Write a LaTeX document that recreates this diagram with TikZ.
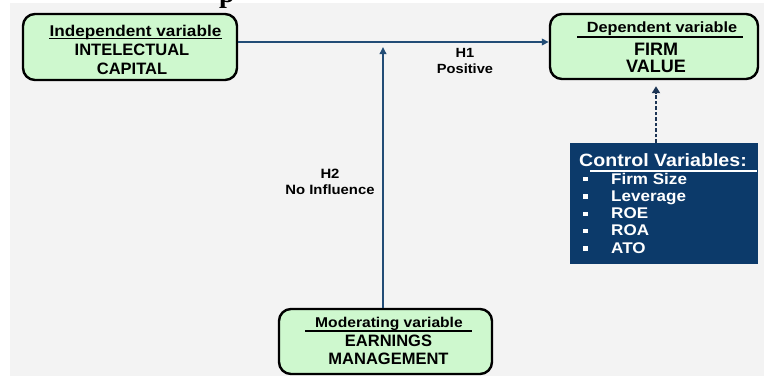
\documentclass[tikz,border=0pt]{standalone}
\usepackage{fontspec}
\setmainfont{Liberation Sans}
\newfontfamily\widesans{Liberation Sans}[FakeStretch=1.1]
\newfontfamily\serifbold{Liberation Serif}
\usetikzlibrary{arrows.meta}
\definecolor{bgc}{RGB}{243,243,243}
\definecolor{boxgreen}{RGB}{206,248,206}
\definecolor{arrowblue}{RGB}{34,76,118}
\definecolor{navy}{RGB}{12,58,106}
\definecolor{dashnavy}{RGB}{28,52,84}
\begin{document}
\begin{tikzpicture}[x=1pt,y=-1pt,
  varbox/.style={draw=black, line width=2.4pt, rounded corners=12pt, fill=boxgreen, inner sep=0pt},
  ctrlbox/.style={fill=navy, inner sep=0pt},
  txt/.style={inner sep=0pt, anchor=base, font=\bfseries\fontsize{#1}{#1}\selectfont},
  htxt/.style={inner sep=0pt, anchor=base, font=\widesans\bfseries\fontsize{#1}{#1}\selectfont},
  wtxt/.style={inner sep=0pt, anchor=base west, text=white, font=\widesans\bfseries\fontsize{#1}{#1}\selectfont},
  ruleline/.style={line width=1.2pt},
  conn/.style={draw=arrowblue, line width=2pt, -{Triangle[length=7pt,width=6.5pt]}},
  dconn/.style={draw=dashnavy, line width=2.6pt, dash pattern=on 3.5pt off 2pt, -{Triangle[length=7pt,width=8pt]}},
  bulletsq/.style={fill=white, minimum width=5pt, minimum height=4.5pt, inner sep=0pt},
]
\useasboundingbox (0,0) rectangle (764,376);
\fill[white] (0,0) rectangle (764,376);
\fill[bgc] (10,3) rectangle (764,376);

% cut-off title fragment
\node[inner sep=0pt, anchor=base west, font=\serifbold\bfseries\fontsize{28}{28}\selectfont] (ttl) at (219,2) {p};

% boxes
\node[varbox, minimum width=214pt, minimum height=66pt] (iv) at (130,47) {};
\node[varbox, minimum width=208pt, minimum height=65pt] (dv) at (654,46.5) {};
\node[varbox, minimum width=213pt, minimum height=65pt] (mv) at (385.5,341.5) {};
\node[ctrlbox, minimum width=188pt, minimum height=121pt] (cv) at (664,203.5) {};

% independent variable text
\node[htxt=15.6] (ivh) at (135.5,36) {Independent variable};
\draw[ruleline] ([yshift=-2.5pt]ivh.base west) -- ([yshift=-2.5pt]ivh.base east);
\node[txt=16.5] (iv1) at (132,55.5) {INTELECTUAL};
\node[txt=16.5] (iv2) at (132,74) {CAPITAL};

% dependent variable text
\node[htxt=14.8] (dvh) at (662,32) {Dependent variable};
\coordinate (dvl1) at (577,37);
\coordinate (dvl2) at (743,37);
\draw[ruleline] (dvl1) -- (dvl2);
\node[txt=18] (dv1) at (656,55) {FIRM};
\node[txt=18] (dv2) at (656,72) {VALUE};

% moderating variable text
\node[htxt=14.2] (mvh) at (389,327) {Moderating variable};
\coordinate (mvl1) at (305,331);
\coordinate (mvl2) at (472,331);
\draw[ruleline] (mvl1) -- (mvl2);
\node[txt=16.5] (mv1) at (388.5,346) {EARNINGS};
\node[txt=16.5] (mv2) at (388.5,364) {MANAGEMENT};

% control variables
\node[wtxt=17.8] (cvh) at (579,166) {Control Variables:};
\coordinate (cvl1) at (590,171);
\coordinate (cvl2) at (757,171);
\draw[ruleline, white] (cvl1) -- (cvl2);
\foreach \t/\yy/\n in {Firm Size/184/a, Leverage/201.3/b, ROE/218.6/c, ROA/235.9/d, ATO/253.2/e}{
  \node[bulletsq] (bul\n) at (585,\yy-4.8) {};
  \node[wtxt=15.5] (itm\n) at (611,\yy) {\t};
}

% labels
\node[htxt=13.3] (h1a) at (465,57) {H1};
\node[htxt=13.3] (h1b) at (465,73) {Positive};
\node[htxt=13.5] (h2a) at (330,178) {H2};
\node[htxt=13.5] (h2b) at (330,194) {No Influence};

% connectors
\coordinate (junc) at (383,42);
\draw[conn] ([yshift=5pt]iv.east) -- ([yshift=4.5pt]dv.west);
\draw[conn] (mv.north -| junc) -- ([yshift=-5pt]junc);
\draw[dconn] (cv.north -| dv1.base) -- ([yshift=-6pt]dv.south -| dv1.base);
\end{tikzpicture}
\end{document}
